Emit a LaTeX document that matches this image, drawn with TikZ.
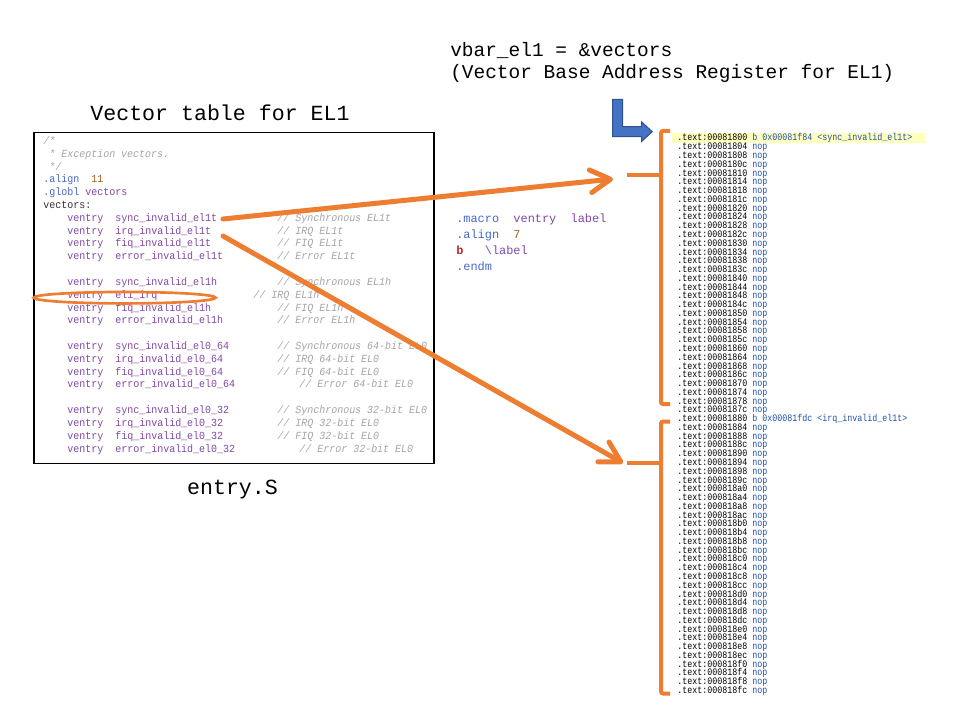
\documentclass[tikz,border=0pt]{standalone}
\usepackage{fontspec}
\newfontfamily\mono{Liberation Mono}
\newfontfamily\codemono[FakeStretch=0.92]{Liberation Mono}
\newfontfamily\lstmono[FakeStretch=0.84]{Liberation Mono}
\usetikzlibrary{arrows.meta}
\definecolor{orng}{RGB}{237,125,49}
\definecolor{vpurple}{RGB}{128,72,168}
\definecolor{dblue}{RGB}{72,104,200}
\definecolor{nbrown}{RGB}{168,96,40}
\definecolor{cgray}{RGB}{165,165,165}
\definecolor{dgray}{RGB}{50,50,50}
\definecolor{bred}{RGB}{190,40,40}
\definecolor{nopblue}{RGB}{30,80,170}
\definecolor{hly}{RGB}{255,255,190}
\definecolor{bfill}{RGB}{68,114,196}
\definecolor{bdraw}{RGB}{47,82,143}
\begin{document}
\begin{tikzpicture}[x=0.75pt,y=-0.75pt,
  code/.style={anchor=base west, inner sep=0pt, font=\codemono\fontsize{8.15}{9}\selectfont},
  cmt/.style={anchor=base west, inner sep=0pt, font=\codemono\itshape\fontsize{8.15}{9}\selectfont, text=cgray},
  mac/.style={anchor=base west, inner sep=0pt, font=\mono\fontsize{8.94}{11}\selectfont},
  lst/.style={anchor=base west, inner sep=0pt, font=\lstmono\fontsize{7.44}{8}\selectfont},
  big/.style={anchor=base, inner sep=0pt, font=\mono\fontsize{16.2}{19}\selectfont},
  reg/.style={anchor=base west, inner sep=0pt, font=\mono\fontsize{14.6}{17}\selectfont},
  oarrow/.style={draw=orng, line width=3.75pt, line cap=round, line join=round,
    -{Straight Barb[length=15pt,width=17pt,line cap=round,line join=round]}},
  obrack/.style={draw=orng, line width=3pt, line cap=butt, rounded corners=1.5pt},
  ohl/.style={draw=orng, line width=2pt},
  codebox/.style={draw=black, line width=1pt}
]
\useasboundingbox (0,0) rectangle (960,720);
\fill[white] (0,0) rectangle (960,720);

% titles
\node[big] (title) at (220,121) {Vector table for EL1};
\node[big] (file) at (232.5,494) {entry.S};
\node[reg] (vbar1) at (450,56.7) {vbar\_el1 = \&vectors};
\node[reg] (vbar2) at (450,78.5) {(Vector Base Address Register for EL1)};

% code box
\draw[codebox] (34,132.3) rectangle (434,463.3);
\node[cmt] (h0) at (43,{144.4+12.82*0}) {/*};
\node[cmt] (h1) at (49,{144.4+12.82*1}) {* Exception vectors.};
\node[cmt] (h2) at (49,{144.4+12.82*2}) {*/};
\node[code,text=dblue] (h3a) at (43,{144.4+12.82*3}) {.align};
\node[code,text=nbrown] (h3b) at (91,{144.4+12.82*3}) {11};
\node[code,text=dblue] (h4a) at (43,{144.4+12.82*4}) {.globl};
\node[code,text=vpurple] (h4b) at (85,{144.4+12.82*4}) {vectors};
\node[code,text=dgray] (h5) at (43,{144.4+12.82*5}) {vectors:};
\foreach \i/\lab/\cx/\cmtx in {
 6/sync\_invalid\_el1t/277/Synchronous EL1t,
 7/irq\_invalid\_el1t/277/IRQ EL1t,
 8/fiq\_invalid\_el1t/277/FIQ EL1t,
 9/error\_invalid\_el1t/277/Error EL1t,
 11/sync\_invalid\_el1h/277/Synchronous EL1h,
 12/el1\_irq/253/IRQ EL1h,
 13/fiq\_invalid\_el1h/277/FIQ EL1h,
 14/error\_invalid\_el1h/277/Error EL1h,
 16/sync\_invalid\_el0\_64/277/Synchronous 64-bit EL0,
 17/irq\_invalid\_el0\_64/277/IRQ 64-bit EL0,
 18/fiq\_invalid\_el0\_64/277/FIQ 64-bit EL0,
 19/error\_invalid\_el0\_64/299/Error 64-bit EL0,
 21/sync\_invalid\_el0\_32/277/Synchronous 32-bit EL0,
 22/irq\_invalid\_el0\_32/277/IRQ 32-bit EL0,
 23/fiq\_invalid\_el0\_32/277/FIQ 32-bit EL0,
 24/error\_invalid\_el0\_32/299/Error 32-bit EL0}
{
  \node[code,text=vpurple] (v\i) at (67,{144.4+12.82*\i}) {ventry};
  \node[code,text=vpurple] (l\i) at (115,{144.4+12.82*\i}) {\lab};
  \node[cmt] (c\i) at (\cx,{144.4+12.82*\i}) {// \cmtx};
}

% macro block
\node[mac,text=dblue] (m1a) at (456,222.5) {.macro};
\node[mac,text=vpurple] (m1b) at (513.2,222.5) {ventry};
\node[mac,text=vpurple] (m1c) at (570.4,222.5) {label};
\node[mac,text=dblue] (m2a) at (456,238.6) {.align};
\node[mac,text=nbrown] (m2b) at (513.2,238.6) {7};
\node[mac,text=bred,font=\mono\bfseries\fontsize{8.94}{11}\selectfont] (m3a) at (456,254.7) {b};
\node[mac,text=vpurple] (m3b) at (484.6,254.7) {\textbackslash label};
\node[mac,text=dblue] (m4a) at (456,270.8) {.endm};

% listing
\fill[hly] (672,133) rectangle (925,143.5);
\foreach \hi [count=\ci from 0] in {0,1,2,3,4,5,6,7,8,9,a,b,c,d,e,f} {
  \foreach \lo [count=\cj from 0] in {0,4,8,c} {
    \pgfmathtruncatemacro\idx{4*\ci+\cj}
    \node[lst,text=black] (t\idx) at (677,{141+8.77*\idx}) {.text:000818\hi\lo};
    \ifnum\idx=0
      \node[lst,text=nopblue] (i\idx) at (752,{141+8.77*\idx}) {b 0x00081f84 <sync\_invalid\_el1t>};
    \else\ifnum\idx=32
      \node[lst,text=nopblue] (i\idx) at (752,{141+8.77*\idx}) {b 0x00081fdc <irq\_invalid\_el1t>};
    \else
      \node[lst,text=nopblue] (i\idx) at (752,{141+8.77*\idx}) {nop};
    \fi\fi
  }
}

% brackets
\draw[obrack] (670,131) -- (661,131) -- (661,404) -- (670,404);
\draw[obrack] (661,175) -- (627,175);
\draw[obrack] (670,421.5) -- (661,421.5) -- (661,693.5) -- (670,693.5);
\draw[obrack] (661,463) -- (627,463);

% blue bent arrow
\draw[fill=bfill, draw=bdraw, line width=0.75pt]
  (612.7,99.3) -- (622.7,99.3) -- (622.7,126.7) -- (641.7,126.7) -- (641.7,122)
  -- (652.3,131.7) -- (641.7,141.4) -- (641.7,136.7) -- (612.7,136.7) -- cycle;

% highlight ellipse
\draw[ohl] (124.7,297.7) ellipse [x radius=68.2pt, y radius=4.3pt];

% arrows
\coordinate (s1) at (223,219);
\coordinate (e1) at (613,179);
\coordinate (s2) at (223,236);
\coordinate (e2) at (623,463);
\draw[oarrow] (s1) -- (e1);
\draw[oarrow] (s2) -- (e2);
\end{tikzpicture}
\end{document}
